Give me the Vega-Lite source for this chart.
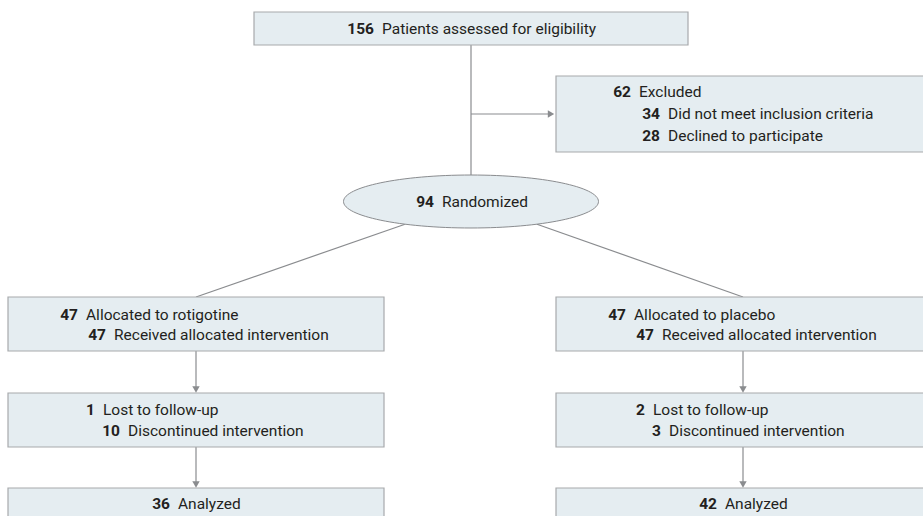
{
  "$schema": "https://vega.github.io/schema/vega-lite/v6.json",
  "width": 923,
  "height": 516,
  "autosize": {"type": "none"},
  "padding": 0,
  "background": "white",
  "config": {"view": {"stroke": null}},
  "datasets": {
    "boxes": [
      {"x": 254, "x2": 688, "y": 12, "y2": 45},
      {"x": 556, "x2": 931, "y": 76, "y2": 152},
      {"x": 8, "x2": 384, "y": 297, "y2": 351},
      {"x": 556, "x2": 931, "y": 297, "y2": 351},
      {"x": 8, "x2": 384, "y": 393, "y2": 447},
      {"x": 556, "x2": 931, "y": 393, "y2": 447},
      {"x": 8, "x2": 384, "y": 488, "y2": 540},
      {"x": 556, "x2": 931, "y": 488, "y2": 540}
    ],
    "ellipse": [{"x": 471, "y": 201.5}],
    "lines": [
      {"x": 471, "y": 45, "x2": 471, "y2": 175.5},
      {"x": 471, "y": 114, "x2": 549, "y2": 114},
      {"x": 405, "y": 224.2, "x2": 196, "y2": 297},
      {"x": 537, "y": 224.2, "x2": 743, "y2": 297},
      {"x": 196, "y": 351, "x2": 196, "y2": 387},
      {"x": 743, "y": 351, "x2": 743, "y2": 387},
      {"x": 196, "y": 447, "x2": 196, "y2": 482},
      {"x": 743, "y": 447, "x2": 743, "y2": 482}
    ],
    "arrows": [
      {"x": 551, "y": 114, "dir": "right"},
      {"x": 196, "y": 389.5, "dir": "down"},
      {"x": 743, "y": 389.5, "dir": "down"},
      {"x": 196, "y": 484.5, "dir": "down"},
      {"x": 743, "y": 484.5, "dir": "down"}
    ],
    "texts": [
      {"num": "156", "label": "Patients assessed for eligibility", "x": 374, "y": 34},
      {"num": "62", "label": "Excluded", "x": 631, "y": 97},
      {"num": "34", "label": "Did not meet inclusion criteria", "x": 660, "y": 119},
      {"num": "28", "label": "Declined to participate", "x": 660, "y": 141},
      {"num": "94", "label": "Randomized", "x": 434, "y": 207},
      {"num": "47", "label": "Allocated to rotigotine", "x": 78, "y": 320},
      {"num": "47", "label": "Received allocated intervention", "x": 106, "y": 340},
      {"num": "47", "label": "Allocated to placebo", "x": 626, "y": 320},
      {"num": "47", "label": "Received allocated intervention", "x": 654, "y": 340},
      {"num": "1", "label": "Lost to follow-up", "x": 95, "y": 415},
      {"num": "10", "label": "Discontinued intervention", "x": 120, "y": 436},
      {"num": "2", "label": "Lost to follow-up", "x": 645, "y": 415},
      {"num": "3", "label": "Discontinued intervention", "x": 661, "y": 436},
      {"num": "36", "label": "Analyzed", "x": 170, "y": 509},
      {"num": "42", "label": "Analyzed", "x": 717, "y": 509}
    ]
  },
  "layer": [
    {
      "data": {"name": "lines"},
      "mark": {"type": "rule", "color": "#8a8c8f", "strokeWidth": 1.2},
      "encoding": {
        "x": {"field": "x", "type": "quantitative", "scale": {"domain": [0, 923]}, "axis": null},
        "y": {"field": "y", "type": "quantitative", "scale": {"domain": [0, 516], "reverse": true}, "axis": null},
        "x2": {"field": "x2"},
        "y2": {"field": "y2"}
      }
    },
    {
      "data": {"name": "boxes"},
      "mark": {"type": "rect", "fill": "#e5edf1", "stroke": "#a7a9ac", "strokeWidth": 1.2},
      "encoding": {
        "x": {"field": "x", "type": "quantitative", "scale": {"domain": [0, 923]}, "axis": null},
        "y": {"field": "y", "type": "quantitative", "scale": {"domain": [0, 516], "reverse": true}, "axis": null},
        "x2": {"field": "x2"},
        "y2": {"field": "y2"}
      }
    },
    {
      "data": {"name": "ellipse"},
      "mark": {
        "type": "point",
        "filled": true,
        "fill": "#e5edf1",
        "stroke": "#8a8c8f",
        "strokeWidth": 1,
        "opacity": 1,
        "size": 65025,
        "shape": "M-1,0C-1,-0.1148,-0.5523,-0.2078,0,-0.2078C0.5523,-0.2078,1,-0.1148,1,0C1,0.1148,0.5523,0.2078,0,0.2078C-0.5523,0.2078,-1,0.1148,-1,0Z"
      },
      "encoding": {
        "x": {"field": "x", "type": "quantitative", "scale": {"domain": [0, 923]}, "axis": null},
        "y": {"field": "y", "type": "quantitative", "scale": {"domain": [0, 516], "reverse": true}, "axis": null}
      }
    },
    {
      "data": {"name": "arrows"},
      "mark": {"type": "point", "filled": true, "color": "#8a8c8f", "opacity": 1, "size": 55},
      "encoding": {
        "x": {"field": "x", "type": "quantitative", "scale": {"domain": [0, 923]}, "axis": null},
        "y": {"field": "y", "type": "quantitative", "scale": {"domain": [0, 516], "reverse": true}, "axis": null},
        "shape": {"field": "dir", "type": "nominal", "scale": {"domain": ["down", "right"], "range": ["triangle-down", "triangle-right"]}, "legend": null}
      }
    },
    {
      "data": {"name": "texts"},
      "mark": {"type": "text", "align": "right", "baseline": "alphabetic", "font": "Roboto", "fontSize": 15.5, "fontWeight": "bold", "color": "#231f20"},
      "encoding": {
        "x": {"field": "x", "type": "quantitative", "scale": {"domain": [0, 923]}, "axis": null},
        "y": {"field": "y", "type": "quantitative", "scale": {"domain": [0, 516], "reverse": true}, "axis": null},
        "text": {"field": "num"}
      }
    },
    {
      "data": {"name": "texts"},
      "mark": {"type": "text", "align": "left", "baseline": "alphabetic", "dx": 8, "font": "Roboto", "fontSize": 15.5, "color": "#231f20"},
      "encoding": {
        "x": {"field": "x", "type": "quantitative", "scale": {"domain": [0, 923]}, "axis": null},
        "y": {"field": "y", "type": "quantitative", "scale": {"domain": [0, 516], "reverse": true}, "axis": null},
        "text": {"field": "label"}
      }
    }
  ]
}
